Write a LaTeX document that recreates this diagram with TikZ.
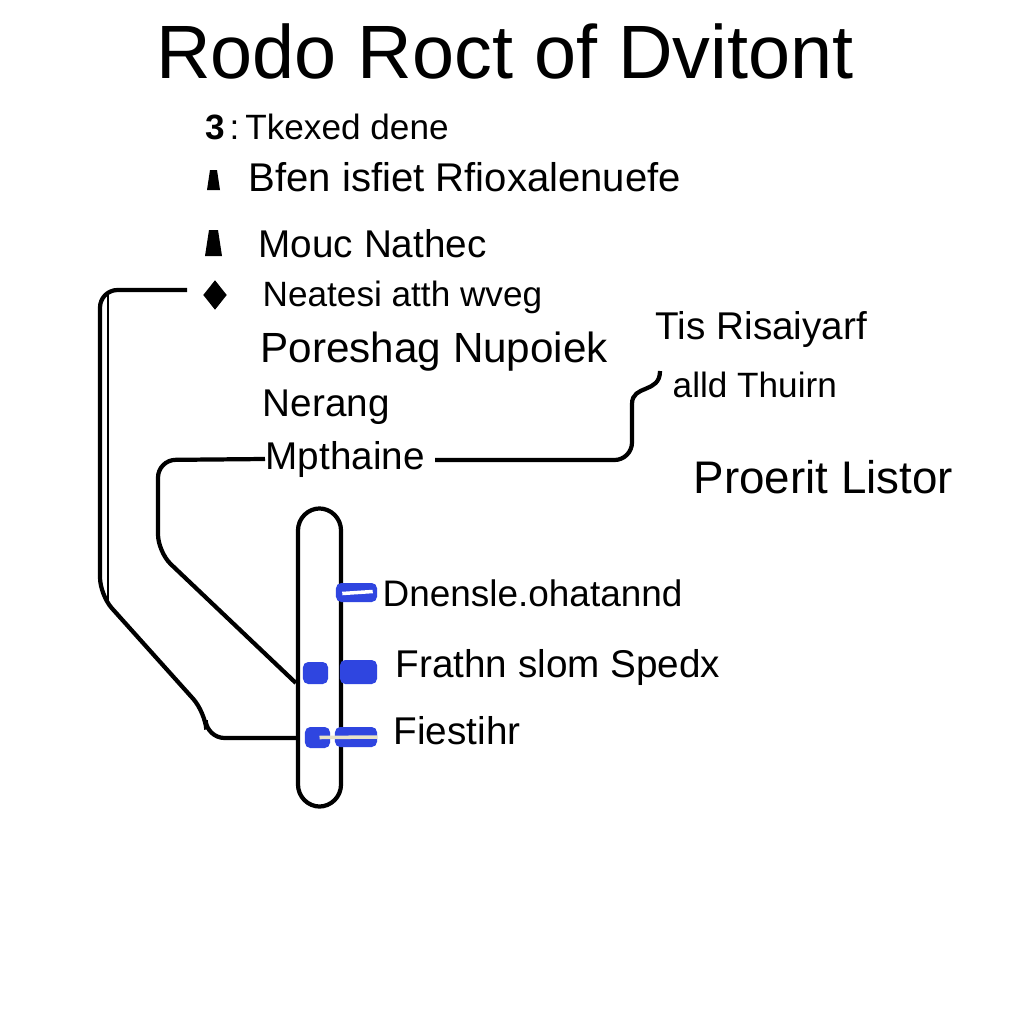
\documentclass[tikz,border=0pt]{standalone}
\usepackage{fontspec}
\setmainfont{Liberation Sans}
\definecolor{tubeblue}{HTML}{2F45E0}
\definecolor{tagline}{HTML}{E8E2C8}
\usetikzlibrary{calc, positioning, shapes.geometric}

\begin{document}
\begin{tikzpicture}[x=0.01cm, y=-0.01cm,
      item/.style={anchor=base west, inner sep=0pt, font=\fontsize{11}{13}\selectfont},
      bigitem/.style={item, font=\fontsize{12}{14}\selectfont},
      wire/.style={line width=1.2pt, rounded corners=5pt},
      tag/.style={fill=tubeblue, rounded corners=1.5pt, inner sep=0pt}]
   \useasboundingbox[fill=white] (0,0) rectangle (1024,1024);
   % Title
   \node[anchor=base, inner sep=0pt, font=\fontsize{21.5}{26}\selectfont] (title) at (505,78) {Rodo Roct of Dvitont};
   % List and its markers
   \node[inner sep=0pt, font=\bfseries\fontsize{10}{12}\selectfont] (m1) at (215,127) {3};
   \node[item, font=\fontsize{10}{12}\selectfont] (l1) at (229,139) {:\,Tkexed dene};
   \coordinate (m2) at (213.5,180);
   \fill (m2) ++(-6.5,10) -- ++(3,-20) -- ++(7,0) -- ++(3,20) -- cycle;
   \node[item, font=\fontsize{11.4}{13}\selectfont] (l2) at (248,191) {Bfen isfiet Rfioxalenuefe};
   \coordinate (m3) at (213.5,243);
   \fill (m3) ++(-8.5,13) -- ++(4,-26) -- ++(9,0) -- ++(4,26) -- cycle;
   \node[item] (l3) at (258,257) {Mouc Nathec};
   \node[diamond, fill, inner sep=0pt, minimum width=0.24cm, minimum height=0.30cm] (m4) at (215,295) {};
   \node[item, font=\fontsize{10}{12}\selectfont] (l4) at (262,306) {Neatesi atth wveg};
   \node[bigitem] (l5) at (260,362) {Poreshag Nupoiek};
   \node[item] (l6) at (262,416) {Nerang};
   \node[item] (l7) at (265,469) {Mpthaine};
   % Right notes
   \node[item] (r1) at (655,339) {Tis Risaiyarf};
   \node[item, font=\fontsize{10}{12}\selectfont] (r2) at (672,397) {alld Thuirn};
   \node[item, font=\fontsize{13}{15}\selectfont] (r3) at (693,493) {Proerit Listor};
   % Tube
   \node[draw, line width=1.2pt, rounded corners=0.22cm, inner sep=0pt,
      minimum width=0.43cm, minimum height=2.98cm] (tube) at (319.5,657.5) {};
   % Tags on the tube
   \node[tag, minimum width=0.41cm, minimum height=0.19cm] (t1) at (356.5,592.5) {};
   \draw[white, line width=1pt] ($(t1.west)+(7,1)$) -- ($(t1.east)+(-5,-1)$);
   \node[tag, minimum width=0.25cm, minimum height=0.22cm] (t2a) at (315.5,673) {};
   \node[tag, minimum width=0.37cm, minimum height=0.24cm] (t2b) at (358.5,672) {};
   \node[tag, minimum width=0.25cm, minimum height=0.21cm] (t3a) at (317.5,737.5) {};
   \node[tag, minimum width=0.42cm, minimum height=0.20cm] (t3b) at (356,737) {};
   \draw[tagline, line width=1pt] ($(t3a.center)+(2,0)$) -- (t3b.east);
   % Tag labels
   \node[item, font=\fontsize{10.5}{12}\selectfont] (s1) at (382,606) {Dnensle.ohatannd};
   \node[item] (s2) at (395,677) {Frathn slom Spedx};
   \node[item] (s3) at (393,744) {Fiestihr};
   % Connectors
   \coordinate (w1s) at (187,290);
   \coordinate (w1e) at (0,738);
   \draw[wire] (w1s) -- (100,290) -- (100,595) -- (205,712) -- (207,738) -- (tube.west |- w1e);
   \draw[line width=0.5pt] (108,292) -- (108,600);
   \coordinate (w2e) at (0,683);
   \draw[wire] (l7.west) -- (158,460) -- (158,552) -- (tube.west |- w2e);
   \coordinate (w3s) at (435,460);
   \coordinate (w3e) at (660,371);
   \draw[wire] (w3s) -- (632,460) -- (632,404);
   \draw[line width=1.2pt] (632,404) .. controls (632,384) and (660,394) .. (w3e);
\end{tikzpicture}
\end{document}
